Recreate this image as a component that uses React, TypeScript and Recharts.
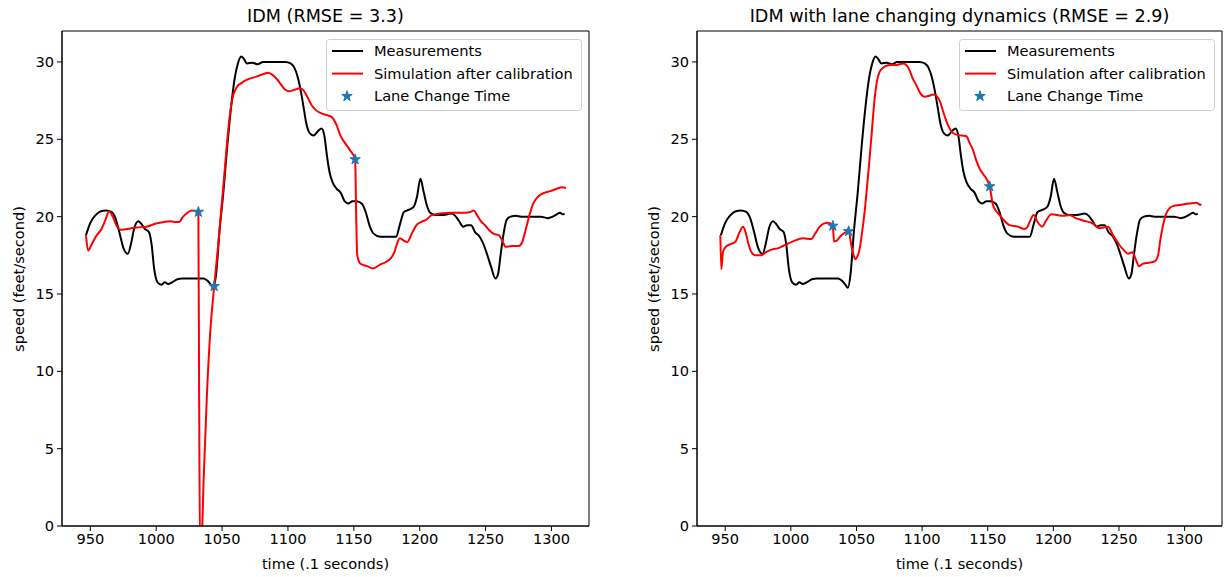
import React from "react";
import {
  ComposedChart,
  Line,
  Scatter,
  XAxis,
  YAxis,
  ReferenceArea,
  Legend,
  Symbols,
} from "recharts";

// measured speed (same trace on both panels)
const measuredTime = [
  946.7, 950, 954, 958, 962, 966, 969, 972, 975, 978.5, 981, 983.5, 986.5, 989, 991.5, 994.5, 996.5,
  998.5, 1001, 1004, 1006.5, 1009, 1012, 1016, 1020, 1030, 1036, 1039, 1041.5, 1043.5, 1045.5, 1048,
  1051, 1054, 1057, 1059.5, 1062, 1064.5, 1066.5, 1069, 1073, 1077, 1081, 1090, 1098, 1102, 1105,
  1107.5, 1110, 1112, 1114, 1116.5, 1119.5, 1123, 1125.5, 1127.5, 1129.5, 1131.5, 1134, 1137, 1140,
  1143, 1146, 1149, 1152, 1156, 1159, 1162, 1165, 1170, 1176, 1182, 1185, 1188, 1192, 1195.5, 1198,
  1200.5, 1203, 1205.5, 1208, 1212, 1218, 1224, 1227, 1230, 1233, 1236, 1239, 1242, 1245.5, 1248,
  1251, 1254, 1257.5, 1259.5, 1261.5, 1263.5, 1266, 1269, 1273, 1277, 1285, 1292, 1297, 1301, 1304,
  1306.5, 1308.5, 1310,
];
const measuredSpeed = [
  18.8, 19.6, 20.1, 20.35, 20.4, 20.3, 19.9, 19.0, 18.0, 17.6, 18.3, 19.3, 19.7, 19.5, 19.2, 19.0, 18.2,
  16.6, 15.75, 15.6, 15.75, 15.65, 15.75, 15.95, 16.0, 16.0, 16.0, 15.85, 15.6, 15.4, 16.3, 19.0,
  21.6, 24.6, 27.2, 28.9, 29.9, 30.35, 30.2, 29.9, 29.95, 29.85, 30.0, 30.0, 30.0, 29.9, 29.6,
  29.0, 28.0, 27.0, 26.0, 25.4, 25.25, 25.55, 25.7, 25.3, 24.0, 22.9, 22.2, 21.8, 21.55,
  21.0, 20.85, 21.0, 21.0, 20.85, 20.3, 19.4, 18.9, 18.7, 18.7, 18.7, 19.5, 20.3, 20.45, 20.65, 21.3,
  22.45, 21.6, 20.7, 20.25, 20.1, 20.1, 20.2, 20.05, 19.7, 19.35, 19.45, 19.45, 19.0, 18.7, 18.3,
  17.6, 16.8, 16.0, 16.3, 17.6, 18.8, 19.8, 20.0, 20.05, 20.0, 20.0, 20.0, 19.9, 20.0, 20.15,
  20.25, 20.15, 20.2,
];

// IDM simulation
const idmTime = [
  946.7, 948.3, 951, 954.5, 958.5, 961.5, 964.3, 967, 970, 973, 978, 985, 992.5, 1000, 1006, 1011,
  1015, 1017.5, 1020, 1023, 1027, 1032, 1032.6, 1033.3, 1034.5, 1036, 1038.5, 1041, 1044, 1046.3,
  1048.5, 1051, 1053, 1055, 1057.5, 1061, 1065, 1069, 1076, 1081, 1085, 1088.5, 1092, 1095, 1098,
  1101, 1105, 1109, 1112, 1115, 1118, 1121, 1124.5, 1130, 1133, 1137, 1140, 1143, 1147, 1151,
  1151.8, 1152.6, 1155, 1160, 1164.5, 1170, 1174, 1178, 1181, 1183, 1185, 1188, 1190.5, 1194,
  1197.5, 1201, 1205, 1209, 1215, 1225, 1235, 1238.5, 1241, 1243.5, 1246.5, 1249.5, 1253, 1256,
  1260, 1263, 1265, 1270, 1275, 1277.5, 1280, 1283, 1286.5, 1290, 1295, 1299, 1304, 1308, 1311,
];
const idmSpeed = [
  18.8, 17.8, 18.2, 18.75, 19.2, 19.8, 20.35, 20.0, 19.4, 19.15, 19.2, 19.3, 19.35, 19.55, 19.65, 19.7,
  19.65, 19.65, 19.95, 20.2, 20.4, 20.3, 8, -1.5, -1.0, 3.0, 8.5, 12.5, 15.5, 17.5,
  19.6, 22.0, 24.0, 25.9, 27.5, 28.35, 28.65, 28.85, 29.05, 29.2, 29.3, 29.15, 28.85, 28.5, 28.2,
  28.1, 28.2, 28.3, 28.15, 27.7, 27.2, 26.9, 26.7, 26.55, 26.45, 25.9, 25.2, 24.8, 24.3, 23.7,
  20, 17.5, 16.95, 16.8, 16.65, 16.9, 17.05, 17.3, 17.75, 18.3, 18.6, 18.45, 18.35, 18.9,
  19.45, 19.65, 19.8, 20.1, 20.2, 20.25, 20.25, 20.3, 20.4, 20.1, 19.7, 19.45, 19.1, 18.9,
  18.8, 18.4, 18.05, 18.1, 18.1, 18.3, 19.0, 20.0, 20.9, 21.3, 21.55, 21.65, 21.8, 21.9, 21.85,
];

// IDM with lane changing dynamics
const lcTime = [
  946.3, 947, 948.3, 950, 952, 955, 958, 960.5, 963.6, 965.5, 967.5, 970, 973, 977.5, 981, 986.4,
  990, 994, 1001.7, 1009.3, 1015.6, 1018.5, 1022, 1025, 1028.3, 1032, 1032.9, 1035, 1038, 1041,
  1044, 1046.1, 1048, 1049.4, 1051, 1052.4, 1054, 1056.2, 1058, 1060, 1062, 1063.8, 1065.5, 1067.6,
  1070, 1072.8, 1076, 1080.4, 1085.5, 1088, 1090.5, 1093, 1095.6, 1098.5, 1101.9, 1105, 1108.3,
  1111, 1113.4, 1116, 1119.8, 1122.5, 1126.1, 1133.7, 1136, 1138.8, 1141, 1143.8, 1146.5, 1149,
  1151.5, 1154, 1156.5, 1159.1, 1162.5, 1166.7, 1173.1, 1178.1, 1180, 1181.9, 1185, 1188, 1191.6,
  1194.5, 1198.5, 1203, 1207.4, 1212.5, 1217, 1222.6, 1230.2, 1235.3, 1238.5, 1241.7, 1245.5,
  1250.5, 1253.5, 1256.9, 1260.2, 1262.5, 1265.3, 1268, 1270.8, 1275, 1277.2, 1279.8, 1281.5,
  1283.6, 1286, 1288.6, 1292, 1296.2, 1303.8, 1309, 1311, 1312.8,
];
const lcSpeed = [
  18.8, 16.6, 17.7, 18.0, 18.15, 18.25, 18.4, 18.9, 19.35, 19.0, 18.3, 17.7, 17.5, 17.5, 17.7, 17.9,
  17.95, 18.1, 18.4, 18.6, 18.55, 18.9, 19.35, 19.55, 19.6, 19.4, 18.4, 18.45, 18.75, 18.95,
  19.05, 18.15, 17.45, 17.25, 17.5, 17.9, 18.8, 20.3, 21.9, 23.75, 25.8, 27.6, 28.7, 29.35,
  29.6, 29.75, 29.8, 29.8, 29.9, 29.8, 29.45, 28.9, 28.5, 28.0, 27.75, 27.8, 27.9,
  27.8, 27.5, 26.8, 25.9, 25.5, 25.3, 25.2, 24.8, 24.3, 23.7, 23.1, 22.75, 22.45,
  21.95, 20.75, 20.35, 20.1, 19.75, 19.45, 19.35, 19.2, 19.3, 19.65, 20.1, 19.65, 19.35,
  19.75, 20.15, 20.1, 20.05, 20.1, 19.9, 19.75, 19.55, 19.25, 19.3, 19.35, 18.8,
  18.15, 17.85, 17.6, 17.7, 17.3, 16.8, 16.95, 17.0, 17.05, 17.1, 17.5, 18.5,
  19.45, 20.2, 20.55, 20.7, 20.75, 20.85, 20.9, 20.8, 20.75,
];

// lane change markers
const laneChangeTime = [1032, 1044, 1151];
const idmLaneChangeSpeed = [20.3, 15.5, 23.7];
const lcLaneChangeTime = [1032, 1044, 1151.5];
const lcLaneChangeSpeed = [19.4, 19.05, 21.95];

const xTicks = [950, 1000, 1050, 1100, 1150, 1200, 1250, 1300];
const yTicks = [0, 5, 10, 15, 20, 25, 30];
const xDomain = [928.5, 1328.5];
const yDomain = [0, 32];

const FONT = "'DejaVu Sans', sans-serif";
const FS = 14.6;

const toPoints = (t: number[], v: number[]) => t.map((time, i) => ({ time, speed: v[i] }));

function StarShape(props: any) {
  return <Symbols cx={props.cx} cy={props.cy} type="star" size={34} fill="#1f77b4" stroke="#1f77b4" />;
}

function LegendBox(props: any) {
  // lines first, marker last (matplotlib order)
  const rows = [...(props.payload || [])].sort(
    (a: any, b: any) => (a.type === "star" ? 1 : 0) - (b.type === "star" ? 1 : 0)
  );
  return (
    <svg width={256} height={72} style={{ display: "block" }}>
      <rect x={0.5} y={0.5} width={255} height={71} rx={3} fill="rgba(255,255,255,0.8)" stroke="#d0d0d0" />
      {rows.map((item: any, i: number) => {
        const cy = 12 + i * 22.6;
        return (
          <g key={i}>
            {item.type === "star" ? (
              <Symbols cx={21} cy={cy} type="star" size={34} fill="#1f77b4" stroke="#1f77b4" />
            ) : (
              <line x1={6} x2={37} y1={cy} y2={cy} stroke={item.color} strokeWidth={2} />
            )}
            <text x={48} y={cy + 5} fontSize={FS} fontFamily={FONT} fill="#000">
              {item.value}
            </text>
          </g>
        );
      })}
    </svg>
  );
}

interface PanelProps {
  width: number;
  rightMargin: number;
  legendLeft: number;
  simTime: number[];
  simSpeed: number[];
  starTime: number[];
  starSpeed: number[];
}

function SpeedPanel({ width, rightMargin, legendLeft, simTime, simSpeed, starTime, starSpeed }: PanelProps) {
  const tickStyle = { fill: "#000", fontSize: FS, fontFamily: FONT };
  return (
    <ComposedChart width={width} height={577} margin={{ top: 31, right: rightMargin, bottom: 0, left: 0 }}>
      <XAxis
        dataKey="time"
        type="number"
        domain={xDomain}
        ticks={xTicks}
        allowDataOverflow
        height={51}
        tick={tickStyle}
        tickSize={5}
        tickMargin={3}
        axisLine={{ stroke: "#000" }}
        tickLine={{ stroke: "#000" }}
      />
      <YAxis
        dataKey="speed"
        type="number"
        domain={yDomain}
        ticks={yTicks}
        allowDataOverflow
        width={62}
        tick={tickStyle}
        tickSize={5}
        tickMargin={3}
        axisLine={{ stroke: "#000" }}
        tickLine={{ stroke: "#000" }}
      />
      <ReferenceArea x1={xDomain[0]} x2={xDomain[1]} y1={yDomain[0]} y2={yDomain[1]} fill="none" stroke="#000" strokeWidth={1} />
      <Line
        data={toPoints(measuredTime, measuredSpeed)}
        dataKey="speed"
        name="Measurements"
        type="monotone"
        stroke="#000000"
        strokeWidth={2}
        dot={false}
        legendType="line"
        isAnimationActive={false}
      />
      <Line
        data={toPoints(simTime, simSpeed)}
        dataKey="speed"
        name="Simulation after calibration"
        type="monotone"
        stroke="#ff0000"
        strokeWidth={2}
        dot={false}
        legendType="line"
        isAnimationActive={false}
      />
      <Scatter
        data={toPoints(starTime, starSpeed)}
        dataKey="speed"
        name="Lane Change Time"
        fill="#1f77b4"
        shape={StarShape}
        legendType="star"
        isAnimationActive={false}
      />
      <Legend
        layout="vertical"
        align="center"
        verticalAlign="middle"
        content={LegendBox}
        wrapperStyle={{ position: "absolute", top: 39, left: legendLeft, width: 256, height: 72 }}
      />
    </ComposedChart>
  );
}

const labelStyle: React.CSSProperties = {
  position: "absolute",
  fontFamily: FONT,
  color: "#000",
  whiteSpace: "nowrap",
  textAlign: "center",
};

export default function App() {
  return (
    <div style={{ position: "absolute", left: 0, top: 0, width: 1224, height: 577, background: "#fff", overflow: "hidden" }}>
      <div style={{ position: "absolute", left: 0, top: 0 }}>
        <SpeedPanel
          width={600}
          rightMargin={11}
          legendLeft={326}
          simTime={idmTime}
          simSpeed={idmSpeed}
          starTime={laneChangeTime}
          starSpeed={idmLaneChangeSpeed}
        />
      </div>
      <div style={{ position: "absolute", left: 635, top: 0 }}>
        <SpeedPanel
          width={589}
          rightMargin={2}
          legendLeft={324}
          simTime={lcTime}
          simSpeed={lcSpeed}
          starTime={lcLaneChangeTime}
          starSpeed={lcLaneChangeSpeed}
        />
      </div>

      <div style={{ ...labelStyle, left: 62, width: 527, top: 5, fontSize: 17.6, lineHeight: "22px" }}>IDM (RMSE = 3.3)</div>
      <div style={{ ...labelStyle, left: 697, width: 525, top: 5, fontSize: 17.6, lineHeight: "22px" }}>
        IDM with lane changing dynamics (RMSE = 2.9)
      </div>

      <div style={{ ...labelStyle, left: 62, width: 527, top: 554, fontSize: FS, lineHeight: "20px" }}>time (.1 seconds)</div>
      <div style={{ ...labelStyle, left: 697, width: 525, top: 554, fontSize: FS, lineHeight: "20px" }}>time (.1 seconds)</div>

      <div style={{ ...labelStyle, left: 18, top: 279, fontSize: FS, transform: "translate(-50%, -50%) rotate(-90deg)" }}>
        speed (feet/second)
      </div>
      <div style={{ ...labelStyle, left: 653, top: 279, fontSize: FS, transform: "translate(-50%, -50%) rotate(-90deg)" }}>
        speed (feet/second)
      </div>
    </div>
  );
}
